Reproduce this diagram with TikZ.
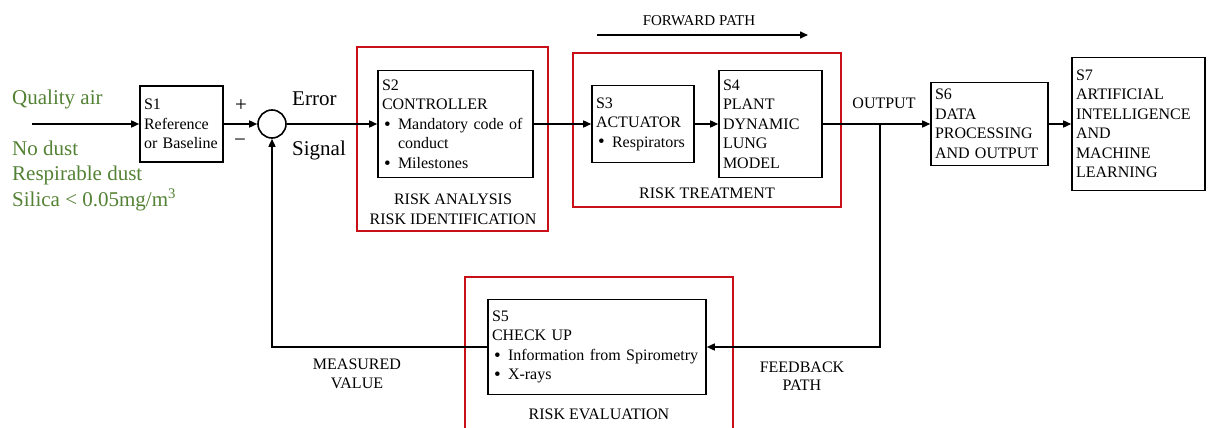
\documentclass[tikz,border=0pt]{standalone}
\usepackage{fontspec}
\setmainfont{Liberation Serif}
\usetikzlibrary{arrows.meta}
\definecolor{riskred}{RGB}{200,16,22}
\definecolor{qgreen}{RGB}{84,130,53}
\newcommand\bul{\makebox[16pt][l]{\hspace{2pt}\smash{\raisebox{-0.8pt}{\fontsize{19}{19}\selectfont\textbullet}}}}
\newcommand\cont{\hspace*{16pt}}
\begin{document}
\begin{tikzpicture}[x=1pt,y=-1pt,
  blk/.style={draw, line width=1.6pt, inner xsep=4pt, inner ysep=0pt, align=left, font=\fontsize{16}{19.5}\selectfont},
  riskbox/.style={draw=riskred, line width=1.6pt},
  lbl/.style={font=\fontsize{16}{19}\selectfont, align=center, inner sep=0pt},
  conn/.style={line width=1.5pt, -{Triangle[length=8pt,width=7pt]}},
  qtext/.style={text=qgreen, font=\fontsize{21}{25}\selectfont, anchor=base west, inner sep=0pt},
  bigtext/.style={font=\fontsize{21}{25}\selectfont, anchor=base west, inner sep=0pt},
]
\clip (0,0) rectangle (1208,428);
\fill[white] (0,0) rectangle (1208,428);

% risk frames
\draw[riskbox] (357,47) rectangle (548,231);
\draw[riskbox] (573,53) rectangle (841,207);
\draw[riskbox] (465,277) rectangle (733,440);

% blocks
\node[blk, minimum width=83pt, minimum height=76pt, text width=75pt] (s1) at (181.5,124) {S1\\Reference\\or Baseline};
\node[draw, circle, line width=1.6pt, minimum size=28pt, inner sep=0pt] (sum) at (272,124) {};
\node[blk, minimum width=155pt, minimum height=107pt, text width=147pt] (s2) at (455.5,124) {S2\\CONTROLLER\\\bul Mandatory code of\\\cont conduct\\\bul Milestones};
\node[blk, minimum width=102pt, minimum height=77pt, text width=94pt] (s3) at (643,124) {S3\\ACTUATOR\\\bul Respirators};
\node[blk, minimum width=103pt, minimum height=107pt, text width=95pt] (s4) at (770.5,124) {S4\\PLANT\\DYNAMIC\\LUNG\\MODEL};
\node[blk, minimum width=117pt, minimum height=83pt, text width=109pt] (s6) at (989.5,124) {S6\\DATA\\PROCESSING\\AND OUTPUT};
\node[blk, minimum width=133pt, minimum height=133pt, text width=125pt] (s7) at (1138.5,124) {S7\\ARTIFICIAL\\INTELLIGENCE\\AND\\MACHINE\\LEARNING};
\node[blk, minimum width=218pt, minimum height=95pt, text width=210pt] (s5) at (597,347) {S5\\CHECK UP\\\bul Information from Spirometry\\\bul X-rays};

% connectors
\coordinate (in) at (32,124);
\coordinate (br) at (880,124);
\coordinate (fp1) at (597,35);
\coordinate (fp2) at (808,35);
\draw[conn] (in) -- (s1);
\draw[conn] (s1) -- (sum);
\draw[conn] (sum) -- (s2);
\draw[conn] (s2) -- (s3);
\draw[conn] (s3) -- (s4);
\draw[conn] (s4) -- (s6);
\draw[conn] (s6) -- (s7);
\draw[conn] (br) |- (s5);
\draw[conn] (s5) -| (sum);
\draw[conn] (fp1) -- (fp2);

% labels
\node[lbl, font=\fontsize{15}{18}\selectfont] (fwd) at (699,21) {FORWARD PATH};
\node[lbl] (out) at (884,103) {OUTPUT};
\node[lbl, font=\fontsize{16}{20}\selectfont] (ra) at (453,209) {RISK ANALYSIS\\RISK IDENTIFICATION};
\node[lbl] (rt) at (707,193) {RISK TREATMENT};
\node[lbl] (re) at (599,414) {RISK EVALUATION};
\node[lbl, font=\fontsize{16}{18.5}\selectfont] (mv) at (357,374) {MEASURED\\VALUE};
\node[lbl, font=\fontsize{16}{18.5}\selectfont] (fb) at (802,376) {FEEDBACK\\PATH};
\node[bigtext] (err) at (292,105) {Error};
\node[bigtext] (sig) at (292,155) {Signal};
\node[lbl, font=\fontsize{21}{22}\selectfont] (plus) at (241,106) {+};
\node[lbl, font=\fontsize{21}{22}\selectfont] (minus) at (240,143) {−};

% green annotations
\node[qtext] (qa) at (12,104) {Quality air};
\node[qtext] (nd) at (12,155) {No dust};
\node[qtext] (rd) at (12,180) {Respirable dust};
\node[qtext] (si) at (12,206) {Silica < 0.05mg/m\textsuperscript{3}};
\end{tikzpicture}
\end{document}
